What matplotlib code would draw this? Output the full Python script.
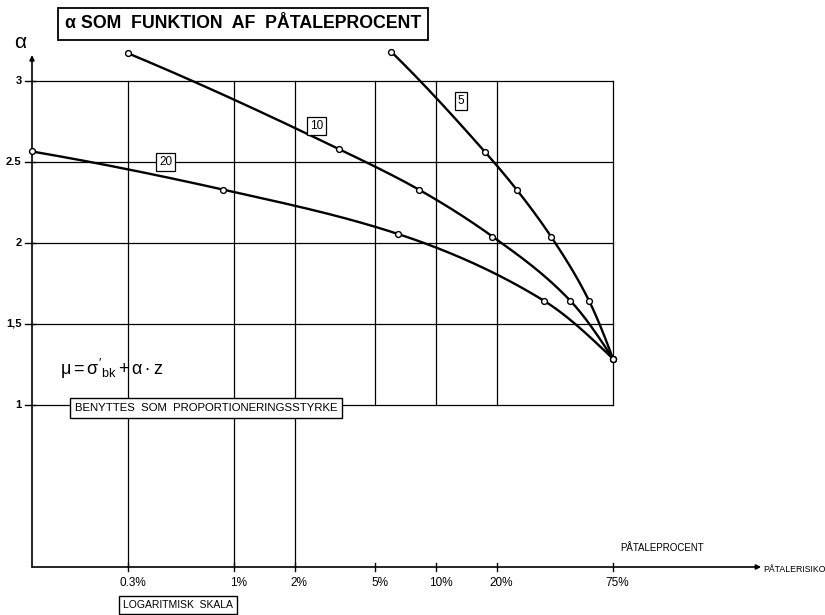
import numpy as np
import matplotlib
matplotlib.use("Agg")
import matplotlib.pyplot as plt

plt.rcParams['font.family'] = ['Liberation Sans', 'DejaVu Sans']
plt.rcParams['mathtext.fontset'] = 'custom'
plt.rcParams['mathtext.rm'] = 'Liberation Sans'
plt.rcParams['mathtext.it'] = 'Liberation Sans'
plt.rcParams['mathtext.default'] = 'regular'

# --- data: alpha as function of påtaleprocent (%) for each curve ---
curve_names = ["5", "10", "20"]
pct_5 = [6.0, 17.5, 25.0, 37.0, 57.0, 75.0]
alpha_5 = [3.18, 2.56, 2.33, 2.04, 1.645, 1.285]
pct_10 = [0.3, 3.3, 8.2, 19.0, 46.0, 75.0]
alpha_10 = [3.17, 2.58, 2.33, 2.04, 1.645, 1.285]
pct_20 = [0.1, 0.88, 6.5, 34.0, 75.0]
alpha_20 = [2.565, 2.33, 2.055, 1.645, 1.285]

x_ticks = [0.3, 1, 2, 5, 10, 20, 75]
x_ticklabels = ["0.3%", "1%", "2%", "5%", "10%", "20%", "75%"]
y_ticks = [1, 1.5, 2, 2.5, 3]
y_ticklabels = ["1", "1,5", "2", "2.5", "3"]


def pchip(x, y, xs):
    """Monotone cubic (Fritsch-Carlson) interpolation."""
    x = np.asarray(x, float)
    y = np.asarray(y, float)
    h = np.diff(x)
    d = np.diff(y) / h
    n = len(x)
    m = np.zeros(n)
    for k in range(1, n - 1):
        if d[k - 1] * d[k] <= 0:
            m[k] = 0
        else:
            w1 = 2 * h[k] + h[k - 1]
            w2 = h[k] + 2 * h[k - 1]
            m[k] = (w1 + w2) / (w1 / d[k - 1] + w2 / d[k])
    m[0] = ((2 * h[0] + h[1]) * d[0] - h[0] * d[1]) / (h[0] + h[1]) if n > 2 else d[0]
    if np.sign(m[0]) != np.sign(d[0]):
        m[0] = 0
    m[-1] = ((2 * h[-1] + h[-2]) * d[-1] - h[-1] * d[-2]) / (h[-1] + h[-2]) if n > 2 else d[-1]
    if np.sign(m[-1]) != np.sign(d[-1]):
        m[-1] = 0
    out = np.empty_like(xs)
    idx = np.clip(np.searchsorted(x, xs) - 1, 0, n - 2)
    for j, xv in enumerate(xs):
        k = idx[j]
        t = (xv - x[k]) / h[k]
        h00 = 2 * t**3 - 3 * t**2 + 1
        h10 = t**3 - 2 * t**2 + t
        h01 = -2 * t**3 + 3 * t**2
        h11 = t**3 - t**2
        out[j] = h00 * y[k] + h10 * h[k] * m[k] + h01 * y[k + 1] + h11 * h[k] * m[k + 1]
    return out


W, H = 825, 615
fig = plt.figure(figsize=(W / 100, H / 100), dpi=100)
x0, x1, ybot = 32, 613, 567
ytop = ybot - 3.2 * 162
ax = fig.add_axes([x0 / W, (H - ybot) / H, (x1 - x0) / W, (ybot - ytop) / H])
ax.set_xscale('log')
ax.set_xlim(0.1, 75)
ax.set_ylim(0, 3.2)
for s in ax.spines.values():
    s.set_visible(False)
ax.set_xticks([])
ax.set_yticks([])
ax.xaxis.set_minor_locator(matplotlib.ticker.NullLocator())

gc = 'black'
# horizontal grid
for yv in y_ticks:
    ax.plot([0.1, 75], [yv, yv], color=gc, lw=0.9, zorder=1, clip_on=False)
# vertical grid
for xv in x_ticks:
    lo = 0 if xv <= 2 else 1
    ax.plot([xv, xv], [lo, 3], color=gc, lw=0.9, zorder=1, clip_on=False)

# axes with arrows
ax.annotate("", xy=(0.1, 3.16), xytext=(0.1, 0), xycoords='data',
            arrowprops=dict(arrowstyle='-|>', lw=1.2, color='black',
                            mutation_scale=7, shrinkA=0, shrinkB=0),
            annotation_clip=False)
ax.annotate("", xy=(1.255, 0), xytext=(0, 0), xycoords='axes fraction',
            arrowprops=dict(arrowstyle='-|>', lw=1.2, color='black',
                            mutation_scale=7, shrinkA=0, shrinkB=0),
            annotation_clip=False)

# ticks
for yv, lab in zip(y_ticks, y_ticklabels):
    ax.plot([0.092, 0.104], [yv, yv], color='black', lw=1, clip_on=False)
    ax.text(-0.018, yv, lab, transform=ax.get_yaxis_transform(),
            ha='right', va='center', fontsize=8, fontweight='bold')
for xv, lab in zip(x_ticks, x_ticklabels):
    ax.plot([xv, xv], [-0.025, 0.025], color='black', lw=1, clip_on=False)
    ax.text(xv * 1.05, -0.1, lab, ha='center', va='center', fontsize=8.5,
            clip_on=False)

# curves
curves = [(pct_5, alpha_5), (pct_10, alpha_10), (pct_20, alpha_20)]
for px, ay in curves:
    lx = np.log10(px)
    xs = np.linspace(lx[0], lx[-1], 300)
    ys = pchip(lx, ay, xs)
    ax.plot(10**xs, ys, color='black', lw=1.7, zorder=3, clip_on=False)
    ax.plot(px, ay, linestyle='none', marker='o', ms=4.2, mfc='white',
            mec='black', mew=1.0, zorder=4, clip_on=False)

# curve labels
label_pos = {"5": (13.3, 2.878), "10": (2.55, 2.724), "20": (0.46, 2.5)}
for name in curve_names:
    lx, ly = label_pos[name]
    ax.text(lx, ly, name, ha='center', va='center', fontsize=8.5, zorder=5,
            bbox=dict(boxstyle='square,pad=0.25', fc='white', ec='black', lw=0.9))

# formula and note
ax.text(0.138, 1.22, r"$\mu = \sigma'_{bk} + \alpha \cdot z$", fontsize=13,
        ha='left', va='center')
ax.text(0.2995, 0.983, "BENYTTES  SOM  PROPORTIONERINGSSTYRKE",
        transform=ax.get_yaxis_transform(), ha='center', va='center',
        fontsize=8.2, zorder=5,
        bbox=dict(boxstyle='square,pad=0.45', fc='white', ec='black', lw=1.0))

# axis captions
ax.text(1.012, 0.0367, "PÅTALEPROCENT", transform=ax.transAxes,
        ha='left', va='center', fontsize=7)
ax.text(1.259, -0.004, "PÅTALERISIKO", transform=ax.transAxes,
        ha='left', va='center', fontsize=6.3)
ax.text(0.251, -0.0735, "LOGARITMISK  SKALA", transform=ax.transAxes,
        ha='center', va='center', fontsize=7.5,
        bbox=dict(boxstyle='square,pad=0.4', fc='white', ec='black', lw=1.0))

# title and y label
fig.text(0.2945, 1 - 24 / H, "α SOM  FUNKTION  AF  PÅTALEPROCENT",
         ha='center', va='center', fontsize=12.8, fontweight='bold',
         bbox=dict(boxstyle='square,pad=0.4', fc='white', ec='black', lw=1.3))
fig.text(20 / W, 1 - 42 / H, "α", ha='center', va='center', fontsize=15)

fig.savefig("out.png", dpi=100, facecolor='white')
